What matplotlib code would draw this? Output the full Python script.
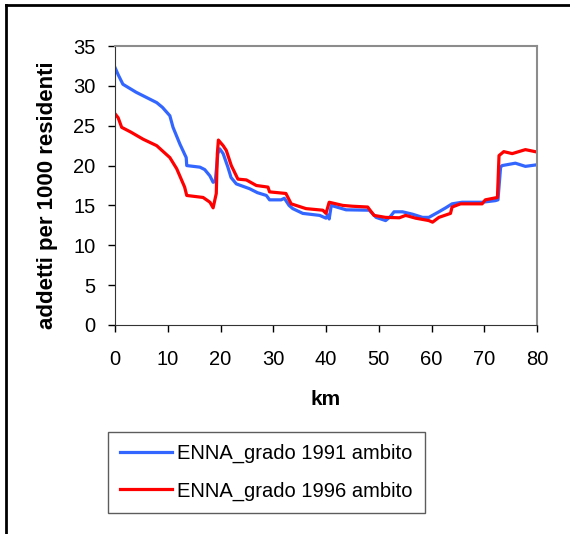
import matplotlib
matplotlib.use('Agg')
import matplotlib.pyplot as plt
from matplotlib.lines import Line2D

plt.rcParams['font.family'] = ['Liberation Sans', 'DejaVu Sans']

# ENNA_grado 1991 ambito
km_1991 = [0, 0.6, 1.5, 2.5, 4, 5.5, 7.9, 9.0, 10.4, 11.0, 12.3, 13.5, 13.6, 16.1, 17.0, 18.0,
           18.6, 19.0, 19.5, 19.85, 20.5, 21.4, 22.0, 23.0, 25.5, 27.0, 28.7, 29.3, 31.5, 32.1,
           33.0, 33.7, 35.6, 38.8, 40.0, 40.3, 40.6, 41.0, 41.5, 43.8, 48.2, 49.5, 51.3, 52.2,
           52.9, 54.5, 56.4, 58.3, 59.5, 61.4, 62.7, 63.9, 65.8, 69.6, 72.1, 72.6, 73.1,
           73.4, 75.9, 77.8, 80]
val_1991 = [32.3, 31.4, 30.2, 29.8, 29.2, 28.7, 27.9, 27.3, 26.25, 24.8, 22.7, 21.0, 20.0, 19.8,
            19.5, 18.7, 17.9, 18.0, 21.5, 22.1, 21.5, 19.8, 18.5, 17.7, 17.1, 16.6, 16.25, 15.7,
            15.7, 15.9, 15.0, 14.6, 14.0, 13.75, 13.4, 13.8, 13.3, 15.0, 14.9, 14.45, 14.4,
            13.5, 13.1, 13.6, 14.2, 14.2, 13.9, 13.5, 13.5, 14.2, 14.7, 15.2, 15.4, 15.4, 15.6,
            15.7, 19.8, 20.0, 20.3, 19.9, 20.1]

# ENNA_grado 1996 ambito
km_1996 = [0, 0.6, 1.26, 3.0, 5.35, 7.9, 10.4, 11.7, 13.2, 13.6, 16.7, 18.0, 18.6, 19.2, 19.4,
           19.6, 20.5, 21.1, 22.05, 23.3, 24.9, 26.8, 29.0, 29.3, 32.4, 33.4, 36.2, 39.4,
           40.0, 40.6, 43.2, 45.0, 47.9, 49.1, 51.3, 53.9, 55.1, 57.0, 59.5, 60.2, 61.4,
           63.6, 63.9, 65.5, 69.6, 70.2, 72.5, 72.8, 73.7, 75.3, 77.8, 80]
val_1996 = [26.5, 26.0, 24.8, 24.2, 23.3, 22.5, 21.0, 19.6, 17.3, 16.25, 16.0, 15.4, 14.7, 16.5,
            21.5, 23.2, 22.5, 21.9, 20.0, 18.3, 18.2, 17.5, 17.3, 16.7, 16.5, 15.2, 14.6, 14.4,
            14.0, 15.4, 15.0, 14.9, 14.8, 13.75, 13.5, 13.45, 13.75, 13.4, 13.1, 12.9, 13.5,
            14.0, 14.8, 15.2, 15.2, 15.7, 16.0, 21.25, 21.75, 21.5, 22.0, 21.7]

x_ticks = [0, 10, 20, 30, 40, 50, 60, 70, 80]
y_ticks = [0, 5, 10, 15, 20, 25, 30, 35]

fig = plt.figure(figsize=(5.7, 5.34), dpi=100)
ax = fig.add_axes([115 / 570, 1 - 325 / 534, (537 - 115) / 570, (325 - 46) / 534])

ax.plot(km_1991, val_1991, color='#3366ff', lw=2.3, label='ENNA_grado 1991 ambito')
ax.plot(km_1996, val_1996, color='#ff0000', lw=2.3, label='ENNA_grado 1996 ambito')

ax.set_xlim(0, 80)
ax.set_ylim(0, 35)
ax.set_xticks(x_ticks)
ax.set_yticks(y_ticks)
ax.tick_params(labelsize=14.5, direction='out', length=5, width=1, colors='black')
ax.tick_params(axis='x', pad=13)
ax.tick_params(axis='y', pad=9)
ax.spines['top'].set_color('#8c8c8c')
ax.spines['right'].set_color('#8c8c8c')
ax.spines['top'].set_linewidth(1.5)
ax.spines['right'].set_linewidth(1.5)
ax.spines['left'].set_color('#333333')
ax.spines['bottom'].set_color('#333333')

ax.set_xlabel('km', fontsize=15, fontweight='bold', labelpad=15)
ax.set_ylabel('addetti per 1000 residenti', fontsize=16, fontweight='bold')
ax.yaxis.set_label_coords(-0.135, 0.466)

leg = fig.legend(loc='upper left', bbox_to_anchor=(108 / 570, 1 - 432 / 534),
                 fontsize=14.5, frameon=True, fancybox=False, edgecolor='#333333',
                 handlelength=2.6, handletextpad=0.25, borderaxespad=0, labelspacing=0.9,
                 borderpad=0.6)
leg.get_frame().set_linewidth(1)

# outer frame (left and top edges visible)
fig.add_artist(Line2D([6 / 570, 6 / 570], [0, 1 - 5 / 534], color='black', lw=2))
fig.add_artist(Line2D([6 / 570, 1], [1 - 5 / 534, 1 - 5 / 534], color='black', lw=2))

fig.savefig('out.png', dpi=100)
